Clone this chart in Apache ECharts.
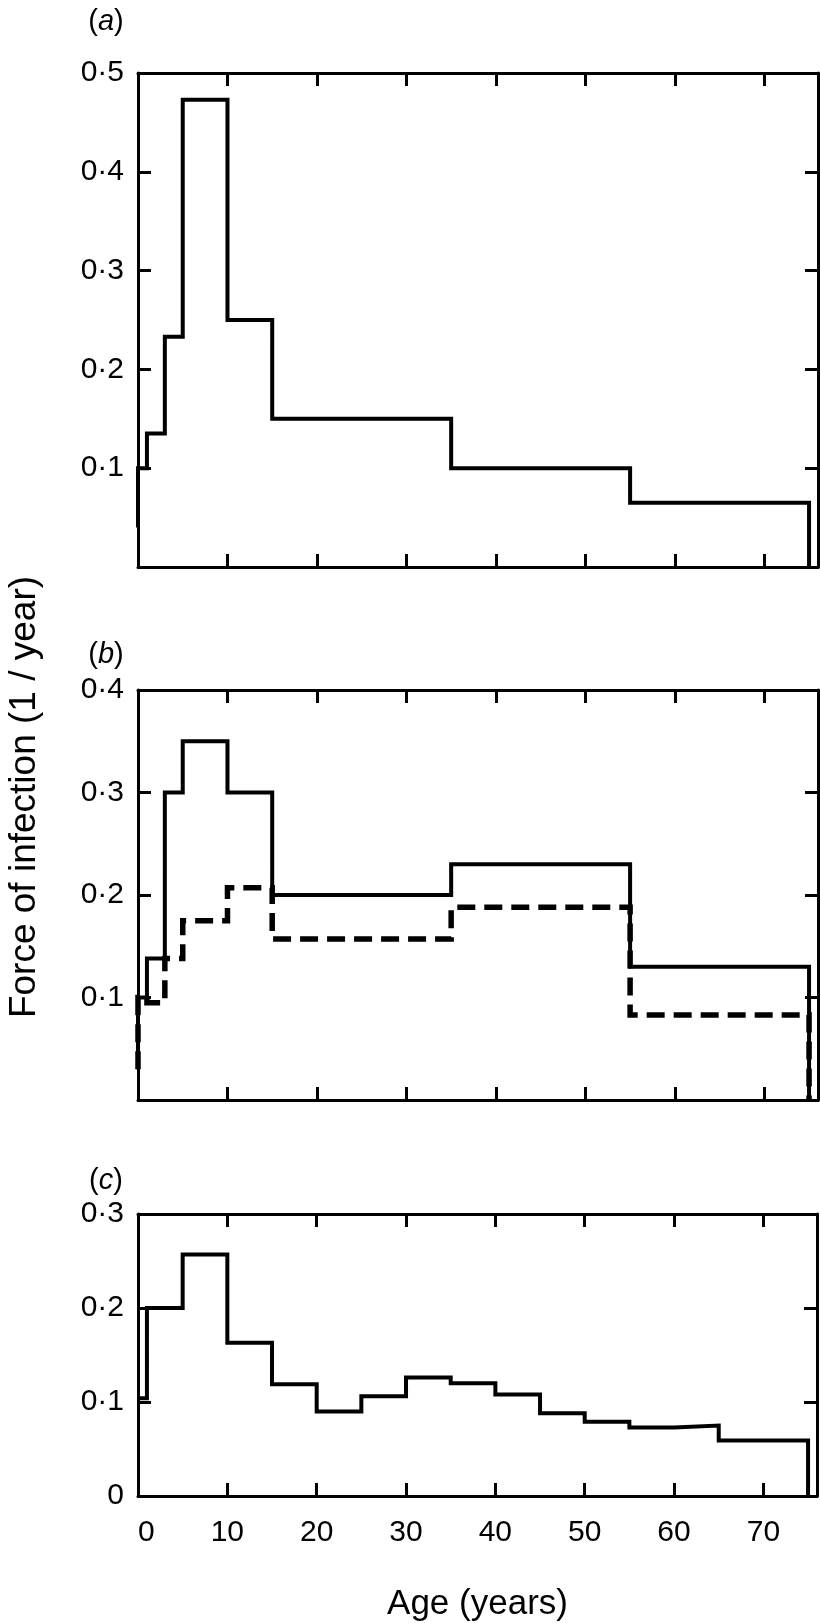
<!DOCTYPE html>
<html>
<head>
<meta charset="utf-8">
<script src="https://cdn.jsdelivr.net/npm/echarts@6/dist/echarts.min.js"></script>
<style>
  html, body { margin: 0; padding: 0; background: #fff; }
  #chart { width: 820px; height: 1623px; }
</style>
</head>
<body>
<div id="chart"></div>
<script>
// step edges (age, years) and force of infection (1 / year)
const agesA = [0, 0, 1, 3, 5, 10, 15, 35, 55, 75]
const forceA = [0.04, 0.1, 0.135, 0.233, 0.473, 0.25, 0.15, 0.1, 0.065, 0]

const agesB = [0, 0, 1, 3, 5, 10, 15, 35, 55, 75]
const forceBSolid = [0.03, 0.1, 0.138, 0.3, 0.35, 0.3, 0.2, 0.23, 0.13, 0]
const forceBDashed = [0.03, 0.1, 0.095, 0.138, 0.175, 0.207, 0.157, 0.188, 0.083, 0]

const agesC = [0, 1, 5, 10, 15, 20, 25, 30, 35, 40, 45, 50, 55, 60, 65, 75]
const forceC = [0.104, 0.2, 0.257, 0.163, 0.119, 0.09, 0.106, 0.126, 0.12, 0.108, 0.088, 0.079, 0.073, 0.075, 0.059, 0]

const ageTicks = [0, 10, 20, 30, 40, 50, 60, 70]
const yMax = [0.5, 0.4, 0.3]
const panelNames = ['a', 'b', 'c']

const FONT = 'Liberation Sans, Arial, Helvetica, sans-serif'
const INK = '#000'

// panel boxes in px
const panels = [
  { top: 73, height: 494 },
  { top: 690, height: 410 },
  { top: 1214, height: 289 }
]
const panelLabelY = [22, 655, 1181]

const pairs = (xs, ys) => xs.map((x, i) => [x, ys[i]])
const fmtY = v => (v === 0 ? '0' : v.toFixed(1).replace('.', '·'))

const chart = echarts.init(document.getElementById('chart'))

const grid = []
const xAxis = []
const yAxis = []

panels.forEach((p, i) => {
  grid.push({ left: 138, right: 2, top: p.top, height: p.height })
  const line = { show: true, onZero: false, lineStyle: { color: INK, width: 3 } }
  const tick = { show: true, inside: true, length: 13, lineStyle: { color: INK, width: 3 } }
  const isLast = i === panels.length - 1
  // bottom
  xAxis.push({
    type: 'value', gridIndex: i, position: 'bottom', min: 0, max: 76, interval: 10,
    axisLine: line, axisTick: tick, splitLine: { show: false },
    axisLabel: {
      show: isLast, color: INK, fontFamily: FONT, fontSize: 30, margin: 22,
      alignMinLabel: 'left',
      formatter: v => (ageTicks.includes(v) ? String(v) : '')
    },
    name: isLast ? 'Age (years)' : '',
    nameLocation: 'middle', nameGap: 91,
    nameTextStyle: { color: INK, fontFamily: FONT, fontSize: 35 }
  })
  // top
  xAxis.push({
    type: 'value', gridIndex: i, position: 'top', min: 0, max: 76, interval: 10,
    axisLine: line, axisTick: tick, splitLine: { show: false }, axisLabel: { show: false }
  })
  // left
  yAxis.push({
    type: 'value', gridIndex: i, position: 'left', min: 0, max: yMax[i], interval: 0.1,
    axisLine: line, axisTick: tick, splitLine: { show: false },
    axisLabel: {
      color: INK, fontFamily: FONT, fontSize: 30, margin: 14,
      showMinLabel: isLast, formatter: fmtY
    }
  })
  // right
  yAxis.push({
    type: 'value', gridIndex: i, position: 'right', min: 0, max: yMax[i], interval: 0.1,
    axisLine: line, axisTick: tick, splitLine: { show: false }, axisLabel: { show: false }
  })
})

const stepSeries = (idx, data, dashed) => ({
  type: 'line',
  step: 'end',
  xAxisIndex: idx * 2,
  yAxisIndex: idx * 2,
  data: data,
  showSymbol: false,
  symbol: 'none',
  clip: false,
  lineStyle: {
    color: INK,
    width: dashed ? 5.5 : 4,
    type: dashed ? [18, 9] : 'solid',
    join: 'miter',
    cap: 'butt'
  },
  z: dashed ? 3 : 2
})

const option = {
  animation: false,
  backgroundColor: '#fff',
  grid,
  xAxis,
  yAxis,
  series: [
    stepSeries(0, pairs(agesA, forceA), false),
    stepSeries(1, pairs(agesB, forceBSolid), false),
    stepSeries(1, pairs(agesB, forceBDashed), true),
    stepSeries(2, pairs(agesC, forceC), false)
  ],
  graphic: [
    {
      type: 'text',
      x: 25,
      y: 797,
      rotation: Math.PI / 2,
      style: {
        text: 'Force of infection (1 / year)',
        font: '37px ' + FONT,
        fill: INK,
        align: 'center',
        verticalAlign: 'middle'
      }
    },
    ...panelNames.map((n, i) => ({
      type: 'text',
      x: 106,
      y: panelLabelY[i],
      style: {
        text: '({i|' + n + '})',
        font: '29px ' + FONT,
        fill: INK,
        align: 'center',
        verticalAlign: 'middle',
        rich: { i: { fontStyle: 'italic', fontSize: 29, fontFamily: FONT, fill: INK } }
      }
    }))
  ]
}

chart.setOption(option)
</script>
</body>
</html>
